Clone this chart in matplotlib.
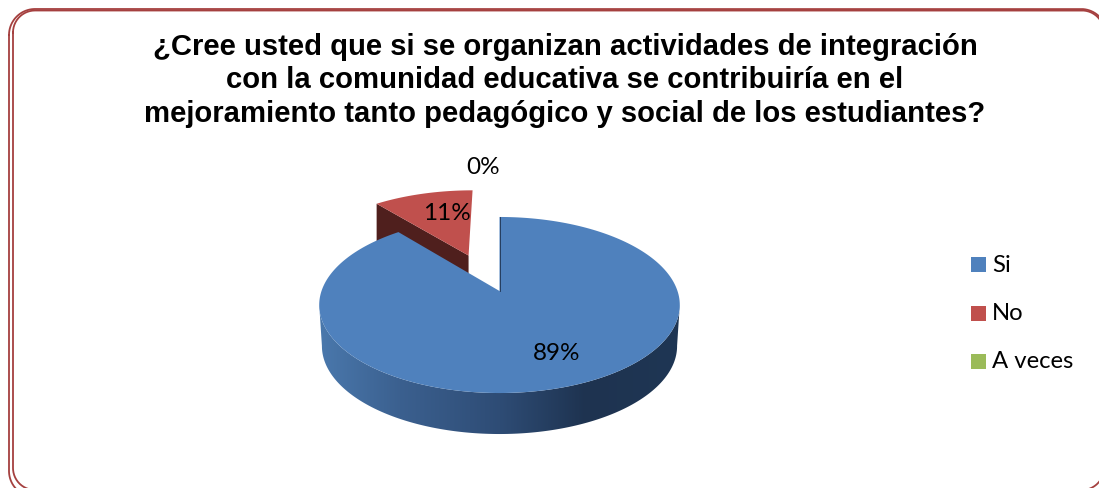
import numpy as np
import matplotlib
matplotlib.use("Agg")
import matplotlib.pyplot as plt
from matplotlib.patches import Polygon, Rectangle

title = ("¿Cree usted que si se organizan actividades de integración\n"
         "con la comunidad educativa se contribuiría en el\n"
         "mejoramiento tanto pedagógico y social de los estudiantes?")
categories = ["Si", "No", "A veces"]
values = [89, 11, 0]
labels = ["89%", "11%", "0%"]
colors = ["#4F81BD", "#C0504D", "#9BBB59"]
explode = [0.0, 0.48, 0.0]

W, H = 1099, 488
fig = plt.figure(figsize=(W / 100, H / 100), dpi=100)
ax = fig.add_axes([0, 0, 1, 1])
ax.set_xlim(0, W)
ax.set_ylim(H, 0)
ax.axis("off")

# pie projection: plane (u, v) with perspective
CX, CY, RX, RY, P = 499.5, 291.0, 178.0, 85.8, 0.159
DEPTH = 41.0
EXPLODE_SKEW = -3.0

def project(u, v, depth=0.0):
    d = 1 + P * v
    s = 1 - 0.015 * depth / DEPTH
    return CX + s * RX * u / d, CY - RY * v / d + depth

def wedge_uv(a0, a1, off):
    t = np.radians(np.linspace(a0, a1, 240))
    mid = np.radians((a0 + a1) / 2 + EXPLODE_SKEW)
    du = np.sin(mid) * off
    dv = np.cos(mid) * off
    return np.sin(t) + du, np.cos(t) + dv, du, dv

total = sum(values)
angles = np.cumsum([0] + values) * 360 / total

# exploded red wedge (drawn first: sits behind the blue one)
a0, a1 = angles[1], angles[2]
u, v, du, dv = wedge_uv(a0, a1, explode[1])
tx, ty = project(np.r_[du, u], np.r_[dv, v])
ax1, ay1 = project(du, dv)
ax2, ay2 = project(u[0], v[0])
face = [(ax1, ay1), (ax2, ay2), (ax2, ay2 + DEPTH), (ax1, ay1 + DEPTH)]
ax.add_patch(Polygon(face, closed=True, fc="#4F1F1D", ec="none", zorder=2))
ax.add_patch(Polygon(np.c_[tx, ty], closed=True, fc=colors[1], ec="none", zorder=3))

# blue wedge: rim side with a horizontal gradient
a0, a1 = angles[0], angles[1]
u, v, du, dv = wedge_uv(a0, a1, explode[0])
front = np.linspace(np.radians(a0), np.radians(a1), 600)
fu, fv = np.sin(front), np.cos(front)
xt, yt = project(fu, fv)
xb, yb = project(fu, fv, DEPTH)
i0, i1 = np.argmax(xt), np.argmin(xt)
side = np.r_[np.c_[xt[i0:i1 + 1], yt[i0:i1 + 1]], np.c_[xb[i0:i1 + 1], yb[i0:i1 + 1]][::-1]]
side_patch = Polygon(side, closed=True, fc="none", ec="none", zorder=4)
ax.add_patch(side_patch)
stops_x = np.array([320, 400, 500, 585, 680])
stops = np.array([[0x4A, 0x78, 0xAC], [0x3B, 0x60, 0x8F], [0x2E, 0x4C, 0x75],
                  [0x1E, 0x33, 0x50], [0x1F, 0x36, 0x54]]) / 255
gx = np.arange(318, 683)
grad = np.stack([np.interp(gx, stops_x, stops[:, c]) for c in range(3)], axis=-1)[None, :, :]
im = ax.imshow(grad, extent=(318, 683, 440, 290), aspect="auto", zorder=4, interpolation="bilinear")
im.set_clip_path(side_patch)
ax.set_xlim(0, W)
ax.set_ylim(H, 0)

tx, ty = project(np.r_[du, u], np.r_[dv, v])
ax.add_patch(Polygon(np.c_[tx, ty], closed=True, fc=colors[0], ec="none", zorder=5))
sx, sy = project(np.array([0.0, 0.0]), np.array([0.0, 1.0]))
ax.plot(sx, sy, color="#1F3350", lw=0.6, zorder=6)

# data labels
lab_font = dict(family="Lato", fontsize=17.5, color="black", ha="center", va="center", zorder=8)
ax.text(557, 353, labels[0], **lab_font)
ax.text(447, 213, labels[1], **lab_font)
ax.text(483, 168, labels[2], **lab_font)

# title
ax.text(565, 80.5, title, family="Liberation Sans", fontweight="bold", fontsize=21.1,
        ha="center", va="center", linespacing=1.23, color="black", zorder=8)

# legend
leg_y = [264.5, 313, 361.5]
for cat, col, y in zip(categories, colors, leg_y):
    ax.add_patch(Rectangle((971, y - 7.5), 15, 15, fc=col, ec="none", zorder=8))
    ax.text(992, y + 0.5, cat, family="Lato", fontsize=17.2, ha="left", va="center", color="black", zorder=8)

# double rounded border
def rounded(x0, y0, x1, y1, r):
    t = np.linspace(0, np.pi / 2, 40)
    c, s = np.cos(t), np.sin(t)
    xs = np.r_[x0 + r - r * c, x1 - r + r * s, x1 - r + r * c, x0 + r - r * s, x0]
    ys = np.r_[y0 + r - r * s, y0 + r - r * c, y1 - r + r * s, y1 - r + r * c, y0 + r]
    return xs, ys

border = "#A5403F"
for box in [(9, 9, 1107, 497, 26), (13, 10.5, 1104, 490, 22)]:
    bx, by = rounded(*box)
    ax.plot(bx, by, color=border, lw=1.3, zorder=1)

fig.savefig("out.png", dpi=100, facecolor="white")
